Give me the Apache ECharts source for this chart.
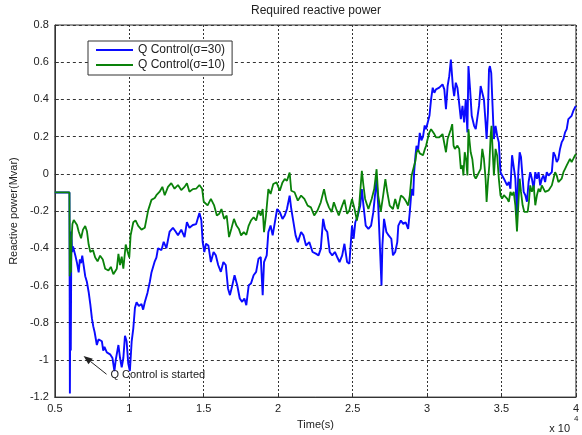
<!DOCTYPE html>
<html>
<head>
<meta charset="utf-8">
<script src="https://cdn.jsdelivr.net/npm/echarts@6/dist/echarts.min.js"></script>
<style>
html,body{margin:0;padding:0;background:#fff;}
#c{width:582px;height:435px;}
</style>
</head>
<body>
<div id="c"></div>
<script>
// ---- data (time in units of 10^4 s, reactive power in Mvar) ----
const titleText = 'Required reactive power';
const xName = 'Time(s)';
const yName = 'Reactive power(Mvar)';
const seriesNames = ['Q Control(\u03c3=30)', 'Q Control(\u03c3=10)'];
const xTicks = [0.5, 1, 1.5, 2, 2.5, 3, 3.5, 4];
const yTicks = [-1.2, -1, -0.8, -0.6, -0.4, -0.2, 0, 0.2, 0.4, 0.6, 0.8];
const annotationText = 'Q Control is started';

const blueSigma30 = [
[0.5,-0.1],[0.598,-0.1],[0.601,-1.18],[0.604,-0.62],[0.607,-0.95],[0.611,-0.31],[0.616,-0.42],[0.622,-0.39],
[0.63,-0.40],[0.638,-0.44],[0.649,-0.48],[0.66,-0.53],[0.668,-0.46],[0.676,-0.48],[0.684,-0.44],[0.693,-0.49],
[0.704,-0.55],[0.715,-0.58],[0.727,-0.635],[0.738,-0.70],[0.749,-0.777],[0.758,-0.82],[0.767,-0.85],[0.782,-0.92],
[0.793,-0.89],[0.804,-0.88],[0.816,-0.90],[0.825,-0.95],[0.833,-0.93],[0.849,-0.96],[0.86,-0.96],[0.871,-0.97],
[0.887,-0.99],[0.9,-1.06],[0.909,-1.0],[0.916,-0.99],[0.927,-0.92],[0.938,-0.99],[0.949,-1.04],[0.96,-0.99],
[0.971,-0.87],[0.982,-0.9],[0.993,-1.02],[1.004,-1.06],[1.016,-0.9],[1.027,-0.83],[1.038,-0.72],[1.049,-0.69],
[1.064,-0.71],[1.082,-0.70],[1.093,-0.73],[1.104,-0.69],[1.122,-0.64],[1.138,-0.58],[1.149,-0.53],[1.171,-0.47],
[1.182,-0.45],[1.193,-0.40],[1.216,-0.41],[1.231,-0.365],[1.249,-0.40],[1.271,-0.31],[1.293,-0.29],[1.311,-0.31],
[1.327,-0.33],[1.349,-0.30],[1.371,-0.34],[1.387,-0.26],[1.404,-0.29],[1.427,-0.275],[1.449,-0.27],[1.471,-0.21],
[1.484,-0.25],[1.493,-0.367],[1.504,-0.42],[1.515,-0.376],[1.531,-0.385],[1.548,-0.474],[1.566,-0.42],[1.581,-0.438],
[1.597,-0.49],[1.615,-0.527],[1.632,-0.474],[1.648,-0.49],[1.663,-0.616],[1.676,-0.652],[1.692,-0.599],[1.707,-0.545],
[1.725,-0.599],[1.742,-0.67],[1.758,-0.688],[1.773,-0.67],[1.786,-0.706],[1.802,-0.599],[1.817,-0.59],[1.835,-0.545],
[1.852,-0.527],[1.868,-0.456],[1.883,-0.447],[1.896,-0.652],[1.905,-0.474],[1.923,-0.438],[1.934,-0.313],[1.949,-0.278],
[1.963,-0.331],[1.978,-0.26],[1.993,-0.189],[2.011,-0.206],[2.029,-0.242],[2.044,-0.224],[2.059,-0.189],[2.077,-0.117],
[2.088,-0.189],[2.099,-0.242],[2.117,-0.331],[2.132,-0.367],[2.154,-0.313],[2.17,-0.331],[2.187,-0.385],[2.209,-0.367],
[2.231,-0.42],[2.253,-0.429],[2.271,-0.438],[2.286,-0.403],[2.302,-0.242],[2.315,-0.296],[2.33,-0.313],[2.346,-0.42],
[2.363,-0.438],[2.381,-0.42],[2.396,-0.447],[2.412,-0.474],[2.43,-0.438],[2.445,-0.376],[2.463,-0.474],[2.478,-0.483],
[2.496,-0.278],[2.507,-0.349],[2.518,-0.26],[2.535,-0.224],[2.551,-0.171],[2.562,-0.082],[2.573,-0.171],[2.588,-0.278],
[2.606,-0.296],[2.624,-0.278],[2.639,-0.206],[2.65,-0.117],[2.661,-0.028],[2.672,-0.171],[2.683,-0.385],[2.694,-0.6],
[2.7,-0.385],[2.711,-0.242],[2.727,-0.313],[2.742,-0.331],[2.76,-0.349],[2.771,-0.438],[2.786,-0.42],[2.8,-0.367],
[2.807,-0.278],[2.824,-0.251],[2.84,-0.269],[2.856,-0.26],[2.873,-0.296],[2.884,-0.206],[2.896,-0.082],[2.907,-0.117],
[2.913,0.007],[2.922,0.097],[2.929,0.15],[2.94,0.13],[2.951,0.22],[2.962,0.18],[2.973,0.2],[2.984,0.26],
[2.993,0.24],[3.004,0.25],[3.016,0.312],[3.027,0.4],[3.038,0.463],[3.049,0.436],[3.06,0.454],[3.071,0.445],
[3.082,0.463],[3.093,0.472],[3.104,0.481],[3.116,0.454],[3.127,0.347],[3.138,0.472],[3.149,0.525],[3.16,0.614],
[3.167,0.614],[3.173,0.472],[3.182,0.418],[3.193,0.49],[3.204,0.463],[3.216,0.454],[3.227,0.294],[3.238,0.365],
[3.249,0.276],[3.26,0.4],[3.271,0.223],[3.278,0.579],[3.289,0.454],[3.3,0.312],[3.316,0.258],[3.327,0.24],
[3.338,0.249],[3.349,0.365],[3.36,0.472],[3.371,0.436],[3.382,0.4],[3.393,0.276],[3.4,0.187],[3.409,0.33],
[3.416,0.561],[3.422,0.579],[3.431,0.543],[3.44,0.365],[3.449,0.187],[3.46,0.258],[3.471,0.205],[3.482,0.169],
[3.493,0.009],[3.504,-0.009],[3.516,-0.026],[3.527,-0.017],[3.538,-0.062],[3.549,-0.044],[3.56,-0.08],[3.571,0.1],
[3.582,0.109],[3.593,-0.026],[3.604,-0.222],[3.613,0.009],[3.622,0.116],[3.631,0.09],[3.642,-0.026],[3.649,-0.097],
[3.66,-0.115],[3.671,-0.15],[3.682,-0.044],[3.693,0.009],[3.704,-0.026],[3.716,-0.08],[3.727,0.009],[3.738,-0.026],
[3.749,0.009],[3.76,-0.062],[3.771,-0.026],[3.782,-0.009],[3.793,-0.044],[3.804,0.009],[3.816,-0.009],[3.827,-0.017],
[3.838,0.009],[3.849,0.116],[3.86,0.098],[3.871,0.063],[3.882,0.08],[3.893,0.134],[3.904,0.169],[3.916,0.187],
[3.927,0.223],[3.938,0.24],[3.949,0.294],[3.96,0.285],[3.971,0.312],[3.982,0.338],[3.993,0.356],[4.0,0.365]
];

const greenSigma10 = [
[0.5,-0.1],[0.598,-0.1],[0.6,-0.55],[0.604,-0.45],[0.608,-0.53],[0.612,-0.35],[0.618,-0.27],[0.627,-0.248],
[0.638,-0.257],[0.649,-0.275],[0.66,-0.31],[0.676,-0.346],[0.689,-0.30],[0.704,-0.28],[0.716,-0.31],[0.727,-0.38],
[0.738,-0.42],[0.756,-0.41],[0.771,-0.45],[0.787,-0.47],[0.804,-0.44],[0.822,-0.46],[0.838,-0.51],[0.86,-0.52],
[0.876,-0.50],[0.893,-0.54],[0.904,-0.55],[0.916,-0.51],[0.927,-0.43],[0.938,-0.49],[0.949,-0.445],[0.96,-0.51],
[0.976,-0.38],[0.989,-0.42],[1.0,-0.45],[1.009,-0.33],[1.027,-0.26],[1.042,-0.25],[1.06,-0.28],[1.082,-0.30],
[1.104,-0.29],[1.127,-0.195],[1.149,-0.14],[1.171,-0.13],[1.182,-0.115],[1.204,-0.096],[1.222,-0.07],[1.238,-0.115],
[1.26,-0.07],[1.282,-0.05],[1.304,-0.08],[1.327,-0.06],[1.349,-0.087],[1.371,-0.07],[1.387,-0.05],[1.404,-0.096],
[1.427,-0.082],[1.449,-0.08],[1.471,-0.06],[1.489,-0.08],[1.5,-0.15],[1.509,-0.144],[1.526,-0.17],[1.548,-0.135],
[1.57,-0.17],[1.588,-0.224],[1.604,-0.215],[1.619,-0.189],[1.637,-0.242],[1.654,-0.224],[1.67,-0.34],[1.685,-0.296],
[1.703,-0.242],[1.72,-0.278],[1.736,-0.296],[1.751,-0.331],[1.769,-0.313],[1.786,-0.328],[1.802,-0.278],[1.817,-0.251],
[1.835,-0.233],[1.852,-0.251],[1.868,-0.197],[1.883,-0.224],[1.896,-0.189],[1.905,-0.313],[1.918,-0.224],[1.934,-0.082],
[1.949,-0.108],[1.967,-0.055],[1.989,-0.046],[2.011,-0.091],[2.029,-0.046],[2.044,-0.028],[2.059,-0.037],[2.077,0.007],
[2.088,-0.091],[2.11,-0.099],[2.132,-0.144],[2.154,-0.117],[2.176,-0.135],[2.198,-0.171],[2.22,-0.18],[2.242,-0.224],
[2.264,-0.197],[2.286,-0.153],[2.308,-0.082],[2.324,-0.144],[2.341,-0.18],[2.359,-0.205],[2.374,-0.153],[2.39,-0.189],
[2.407,-0.224],[2.43,-0.171],[2.445,-0.139],[2.463,-0.215],[2.478,-0.197],[2.496,-0.135],[2.513,-0.189],[2.529,-0.251],
[2.544,-0.171],[2.562,0.016],[2.573,-0.064],[2.584,-0.135],[2.606,-0.189],[2.628,-0.135],[2.645,-0.082],[2.661,0.025],
[2.672,-0.117],[2.689,-0.205],[2.705,-0.117],[2.72,-0.028],[2.733,-0.099],[2.749,-0.171],[2.771,-0.189],[2.786,-0.135],
[2.804,-0.189],[2.824,-0.117],[2.84,-0.126],[2.856,-0.144],[2.873,-0.17],[2.884,-0.117],[2.896,-0.01],[2.907,0.025],
[2.922,0.07],[2.929,0.114],[2.94,0.13],[2.951,0.11],[2.962,0.12],[2.973,0.1],[2.984,0.13],[2.993,0.15],
[3.004,0.187],[3.016,0.223],[3.027,0.24],[3.038,0.24],[3.049,0.214],[3.06,0.196],[3.071,0.205],[3.082,0.196],
[3.093,0.196],[3.104,0.214],[3.116,0.205],[3.127,0.116],[3.138,0.187],[3.149,0.214],[3.16,0.24],[3.169,0.267],
[3.178,0.152],[3.187,0.134],[3.196,0.134],[3.204,0.152],[3.216,0.134],[3.227,0.027],[3.238,0.045],[3.244,-0.009],
[3.253,0.116],[3.262,0.08],[3.271,-0.009],[3.278,0.24],[3.284,0.187],[3.293,0.116],[3.304,0.08],[3.316,-0.009],
[3.327,-0.026],[3.338,-0.009],[3.349,0.009],[3.36,0.027],[3.371,0.134],[3.382,0.08],[3.393,-0.026],[3.4,-0.151],
[3.409,-0.044],[3.418,0.045],[3.427,0.205],[3.433,0.258],[3.44,0.134],[3.449,-0.009],[3.46,0.134],[3.471,0.098],
[3.482,-0.026],[3.493,-0.115],[3.504,-0.133],[3.516,-0.115],[3.527,-0.106],[3.538,-0.133],[3.549,-0.151],[3.56,-0.097],
[3.571,-0.115],[3.582,-0.097],[3.593,-0.169],[3.604,-0.31],[3.613,-0.169],[3.622,-0.026],[3.631,-0.097],[3.642,-0.169],
[3.653,-0.204],[3.664,-0.213],[3.676,-0.204],[3.684,-0.151],[3.693,-0.062],[3.704,-0.097],[3.716,-0.062],[3.727,-0.169],
[3.738,-0.115],[3.749,-0.08],[3.76,-0.097],[3.771,-0.062],[3.782,-0.071],[3.793,-0.097],[3.804,-0.097],[3.816,-0.089],
[3.827,-0.08],[3.838,-0.062],[3.849,-0.026],[3.86,0.009],[3.871,-0.009],[3.882,-0.044],[3.893,-0.035],[3.904,-0.026],
[3.916,0.009],[3.927,0.027],[3.938,0.045],[3.949,0.063],[3.96,0.08],[3.971,0.063],[3.982,0.08],[3.993,0.098],[4.0,0.107]
];

// ---- chart ----
const FONT = '"Liberation Sans", Arial, sans-serif';
const chart = echarts.init(document.getElementById('c'), null, {renderer: 'canvas'});
const fmt = v => String(Math.round(v * 10) / 10);

const option = {
  animation: false,
  backgroundColor: '#ffffff',
  title: {
    text: titleText, left: 316, top: 5, textAlign: 'center', padding: 0,
    textStyle: {fontFamily: FONT, fontSize: 12, fontWeight: 'normal', color: '#222'}
  },
  legend: {
    data: seriesNames, orient: 'vertical', left: 88, top: 41,
    icon: 'rect', itemWidth: 37, itemHeight: 2, itemGap: 1,
    padding: [2, 7, 3, 8],
    backgroundColor: '#ffffff', borderColor: '#333', borderWidth: 1, borderRadius: 0,
    textStyle: {fontFamily: FONT, fontSize: 12, color: '#222', lineHeight: 14}
  },
  grid: {left: 53, right: 3, top: 25, bottom: 37, show: true, borderColor: '#333', borderWidth: 1, backgroundColor: '#fff'},
  xAxis: {
    type: 'value', min: xTicks[0], max: xTicks[xTicks.length - 1], interval: 0.5,
    name: xName, nameLocation: 'middle', nameGap: 18,
    nameTextStyle: {fontFamily: FONT, fontSize: 11, color: '#222'},
    axisLine: {onZero: false, lineStyle: {color: '#333', width: 1}},
    axisTick: {inside: true, length: 4, lineStyle: {color: '#333'}},
    axisLabel: {fontFamily: FONT, fontSize: 11, color: '#222', margin: 6, formatter: fmt},
    splitLine: {show: true, lineStyle: {color: '#333', type: [2, 2], width: 1}}
  },
  yAxis: {
    type: 'value', min: yTicks[0], max: yTicks[yTicks.length - 1], interval: 0.2,
    name: yName, nameLocation: 'middle', nameGap: 34, nameRotate: 90,
    nameTextStyle: {fontFamily: FONT, fontSize: 11, color: '#222'},
    axisLine: {show: true, onZero: false, lineStyle: {color: '#333', width: 1}},
    axisTick: {show: true, inside: true, length: 4, lineStyle: {color: '#333'}},
    axisLabel: {fontFamily: FONT, fontSize: 11, color: '#222', margin: 6, formatter: fmt},
    splitLine: {show: true, lineStyle: {color: '#333', type: [3, 3], width: 1}}
  },
  series: [
    {name: seriesNames[0], type: 'line', data: blueSigma30, showSymbol: false, symbol: 'none',
     color: '#0a0aff', lineStyle: {width: 1.9, color: '#0a0aff'}, z: 2},
    {name: seriesNames[1], type: 'line', data: greenSigma10, showSymbol: false, symbol: 'none',
     color: '#0a820a', lineStyle: {width: 1.8, color: '#0a820a'}, z: 3}
  ]
};
chart.setOption(option);

// annotation (arrow + text), placed in data coordinates
const tip = chart.convertToPixel({gridIndex: 0}, [0.693, -0.979]);
const tail = chart.convertToPixel({gridIndex: 0}, [0.847, -1.077]);
const txt = chart.convertToPixel({gridIndex: 0}, [0.873, -1.082]);
const ang = Math.atan2(tip[1] - tail[1], tip[0] - tail[0]);
const hl = 9, hw = 3.5;
const bx = tip[0] - hl * Math.cos(ang), by = tip[1] - hl * Math.sin(ang);
const px = -Math.sin(ang) * hw, py = Math.cos(ang) * hw;

chart.setOption({
  graphic: [
    {type: 'line', shape: {x1: tail[0], y1: tail[1], x2: bx, y2: by}, style: {stroke: '#222', lineWidth: 1}, z: 10},
    {type: 'polygon', shape: {points: [[tip[0], tip[1]], [bx + px, by + py], [bx - px, by - py]]}, style: {fill: '#222'}, z: 10},
    {type: 'text', x: txt[0], y: txt[1], z: 10,
     style: {text: annotationText, fontFamily: FONT, fontSize: 11, fill: '#222', textVerticalAlign: 'middle', textAlign: 'left'}},
    {type: 'text', right: 12, top: 423, z: 10,
     style: {text: 'x 10', fontFamily: FONT, fontSize: 11, fill: '#222'}},
    {type: 'text', left: 574, top: 415, z: 10,
     style: {text: '4', fontFamily: FONT, fontSize: 8, fill: '#222'}}
  ]
});
</script>
</body>
</html>
